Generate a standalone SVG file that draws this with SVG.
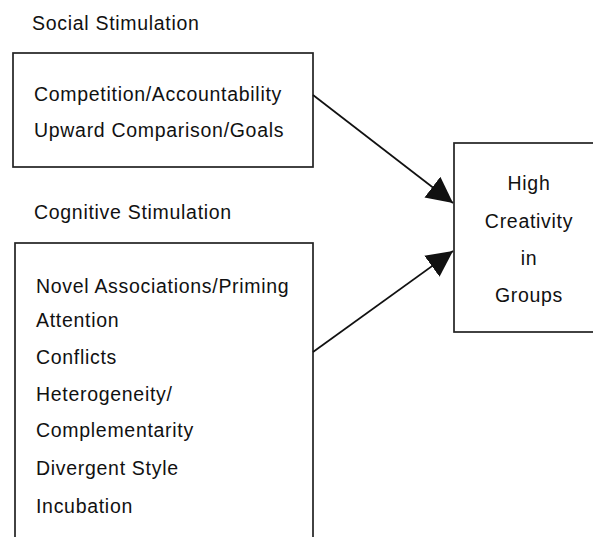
<svg xmlns="http://www.w3.org/2000/svg" width="593" height="537" viewBox="0 0 593 537">
<defs>
<style>
.box{fill:#fff;stroke:#222;stroke-width:1.7}
.t{font-family:"Liberation Sans",Arial,sans-serif;font-size:19.5px;letter-spacing:0.7px;fill:#111}
.c{text-anchor:middle}
.conn{stroke:#111;stroke-width:1.7;fill:none}
</style>
<marker id="ah" markerUnits="userSpaceOnUse" markerWidth="28" markerHeight="28" refX="26" refY="14" orient="auto" viewBox="0 0 28 28">
<path d="M0,1 L26,14 L0,27 Z" fill="#111"/>
</marker>
</defs>
<rect width="593" height="537" fill="#fff"/>
<text class="t" x="32" y="30">Social Stimulation</text>
<text class="t" x="34" y="219">Cognitive Stimulation</text>
<g id="social">
<rect class="box" x="13" y="53" width="300" height="114"/>
<text class="t" x="34" y="101">Competition/Accountability</text>
<text class="t" x="34" y="137">Upward Comparison/Goals</text>
</g>
<g id="cognitive">
<rect class="box" x="15" y="243" width="298" height="310"/>
<text class="t" x="36" y="293">Novel Associations/Priming</text>
<text class="t" x="36" y="327">Attention</text>
<text class="t" x="36" y="364">Conflicts</text>
<text class="t" x="36" y="401">Heterogeneity/</text>
<text class="t" x="36" y="437">Complementarity</text>
<text class="t" x="36" y="475">Divergent Style</text>
<text class="t" x="36" y="513">Incubation</text>
</g>
<g id="outcome">
<rect class="box" x="454" y="143" width="160" height="189"/>
<text class="t c" x="529" y="190">High</text>
<text class="t c" x="529" y="228">Creativity</text>
<text class="t c" x="529" y="265">in</text>
<text class="t c" x="529" y="302">Groups</text>
</g>
<g id="connectors">
<line class="conn" x1="313" y1="95" x2="453" y2="203" marker-end="url(#ah)"/>
<line class="conn" x1="313" y1="352" x2="453" y2="251" marker-end="url(#ah)"/>
</g>
</svg>
